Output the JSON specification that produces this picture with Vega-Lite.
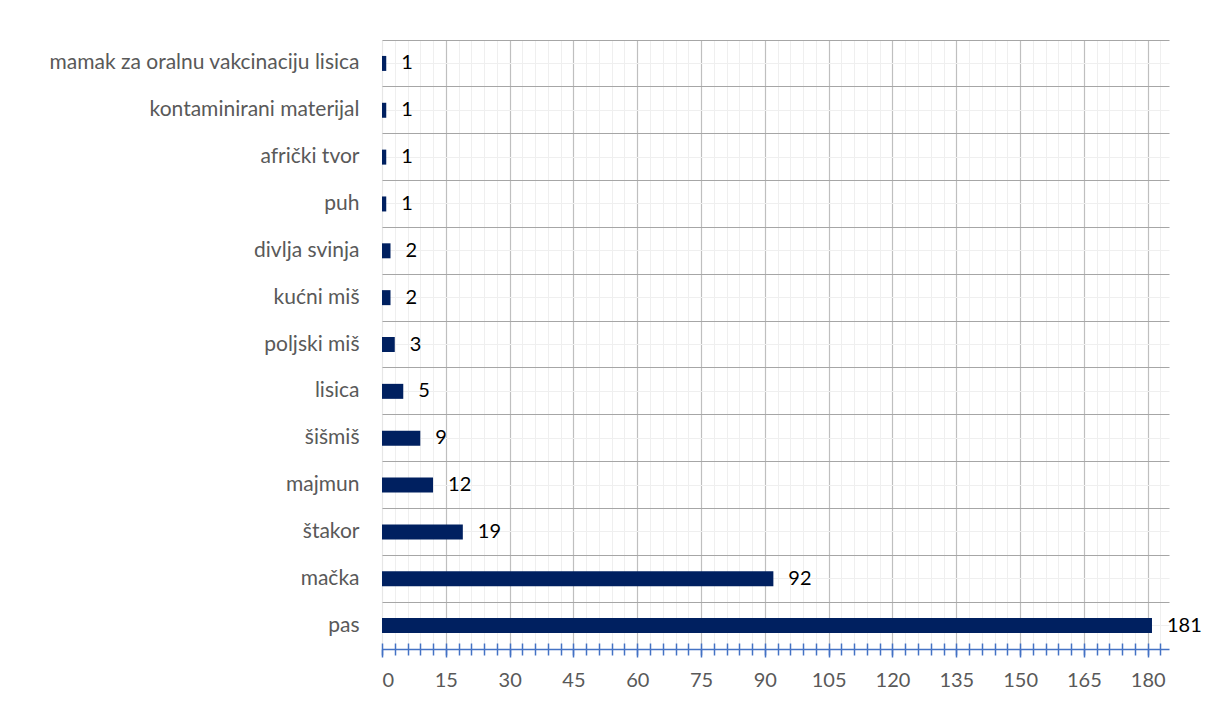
{
  "$schema": "https://vega.github.io/schema/vega-lite/v6.json",
  "width": 787,
  "height": 609,
  "autosize": {"type": "none"},
  "padding": {"left": 382, "top": 40, "right": 36, "bottom": 55},
  "background": "white",
  "config": {"view": {"stroke": null}, "font": "Lato"},
  "data": {
    "values": [
      {"kategorija": "mamak za oralnu vakcinaciju lisica", "broj": 1},
      {"kategorija": "kontaminirani materijal", "broj": 1},
      {"kategorija": "afrički tvor", "broj": 1},
      {"kategorija": "puh", "broj": 1},
      {"kategorija": "divlja svinja", "broj": 2},
      {"kategorija": "kućni miš", "broj": 2},
      {"kategorija": "poljski miš", "broj": 3},
      {"kategorija": "lisica", "broj": 5},
      {"kategorija": "šišmiš", "broj": 9},
      {"kategorija": "majmun", "broj": 12},
      {"kategorija": "štakor", "broj": 19},
      {"kategorija": "mačka", "broj": 92},
      {"kategorija": "pas", "broj": 181}
    ]
  },
  "layer": [
    {
      "mark": {"type": "bar", "color": "#002060", "height": {"band": 0.32}},
      "encoding": {
        "x": {
          "field": "broj", "type": "quantitative",
          "scale": {"domain": [0, 185], "nice": false, "zero": true},
          "axis": {
            "orient": "bottom", "title": null,
            "values": [0,3,6,9,12,15,18,21,24,27,30,33,36,39,42,45,48,51,54,57,60,63,66,69,72,75,78,81,84,87,90,93,96,99,102,105,108,111,114,117,120,123,126,129,132,135,138,141,144,147,150,153,156,159,162,165,168,171,174,177,180,183],
            "offset": -6, "tickSize": 12, "tickColor": "#4472c4", "tickWidth": 1.5,
            "domain": false, "labels": false,
            "grid": true, "gridColor": "#efefef", "gridWidth": 1
          }
        },
        "y": {
          "field": "kategorija", "type": "nominal",
          "sort": ["mamak za oralnu vakcinaciju lisica", "kontaminirani materijal", "afrički tvor", "puh", "divlja svinja", "kućni miš", "poljski miš", "lisica", "šišmiš", "majmun", "štakor", "mačka", "pas"],
          "scale": {"paddingInner": 0, "paddingOuter": 0},
          "axis": {
            "orient": "left", "title": null, "bandPosition": 0.5,
            "grid": true, "gridColor": "#efefef", "ticks": false, "domain": false,
            "labelFontSize": 21, "labelColor": "#595959", "labelPadding": 23, "labelLimit": 400
          }
        }
      }
    },
    {
      "mark": {"type": "text", "align": "left", "baseline": "middle", "dx": 15, "fontSize": 20, "color": "#000000"},
      "encoding": {
        "x": {
          "field": "broj", "type": "quantitative",
          "scale": {"domain": [0, 185], "nice": false, "zero": true},
          "axis": {
            "orient": "bottom", "title": null,
            "values": [0,15,30,45,60,75,90,105,120,135,150,165,180],
            "tickSize": 8, "tickColor": "#4472c4", "tickWidth": 1.5,
            "domain": true, "domainColor": "#4472c4", "domainWidth": 1.5,
            "labelFontSize": 20, "labelColor": "#595959", "labelPadding": 13,
            "grid": true, "gridWidth": 1.2,
            "gridColor": {"condition": {"test": "datum.value === 0", "value": "#e6e6e6"}, "value": "#bfbfbf"}
          }
        },
        "y": {
          "field": "kategorija", "type": "nominal",
          "sort": ["mamak za oralnu vakcinaciju lisica", "kontaminirani materijal", "afrički tvor", "puh", "divlja svinja", "kućni miš", "poljski miš", "lisica", "šišmiš", "majmun", "štakor", "mačka", "pas"],
          "scale": {"paddingInner": 0, "paddingOuter": 0},
          "axis": {
            "orient": "left", "title": null, "bandPosition": 0,
            "grid": true, "gridColor": "#a6a6a6", "gridWidth": 1.2,
            "ticks": false, "domain": false, "labels": false
          }
        },
        "text": {"field": "broj", "type": "quantitative"}
      }
    }
  ],
  "resolve": {"axis": {"x": "independent", "y": "independent"}}
}
